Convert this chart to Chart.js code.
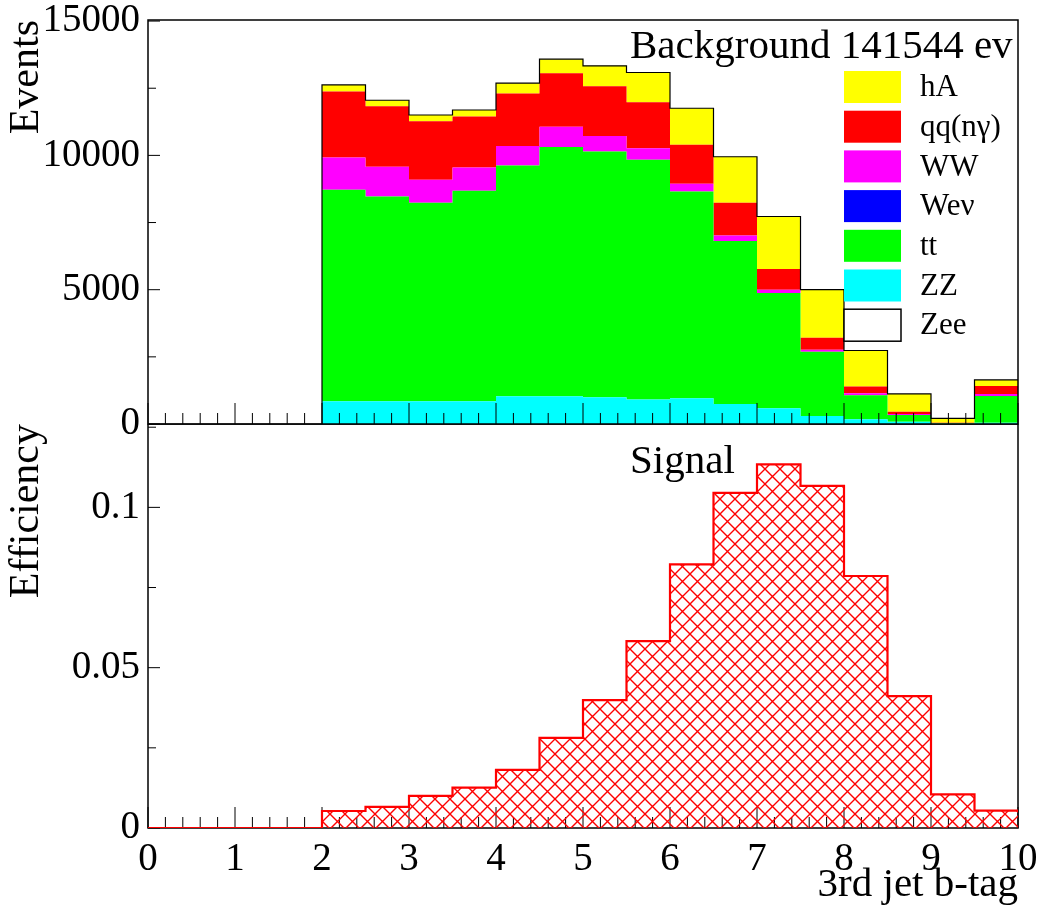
<!DOCTYPE html>
<html><head><meta charset="utf-8">
<script src="https://cdn.jsdelivr.net/npm/chart.js@4.4.0/dist/chart.umd.min.js"></script>
<style>
html,body{margin:0;padding:0;background:#fff;}
#wrap{position:relative;width:1045px;height:916px;overflow:hidden;background:#fff;}
#top{position:absolute;left:0;top:0;}
#bot{position:absolute;left:0;top:424px;}
</style></head><body>
<div id="wrap"><canvas id="top" width="1045" height="446"></canvas><canvas id="bot" width="1045" height="492"></canvas></div>
<script>
// ---------- data ----------
const binLeft = [0,0.5,1,1.5,2,2.5,3,3.5,4,4.5,5,5.5,6,6.5,7,7.5,8,8.5,9,9.5];
const xEnd = 10;
const hA  = [0,0,0,0,246,224,235,247,385,522,758,1108,1356,1716,1952,1791,1343,659,162,224];
const qq  = [0,0,0,0,2452,2250,2176,1891,1954,1990,1854,1716,1455,1219,772,448,249,87,15,299];
const WW  = [0,0,0,0,1205,1108,860,870,721,759,572,422,286,199,124,74,74,37,5,74];
const Wev = [0,0,0,0,0,0,0,0,0,0,0,0,0,0,0,0,0,0,0,0];
const tt  = [0,0,0,0,7873,7623,7386,7835,8594,9278,9154,8931,7699,6076,4291,2388,896,249,20,995];
const ZZ  = [0,0,0,0,847,847,847,847,1033,1033,995,908,958,740,585,299,174,87,10,50];
const Zee = [0,0,0,0,0,0,0,0,0,0,0,0,0,0,0,0,0,0,0,0];
const signal = [0,0,0,0,0.0053,0.0066,0.0100,0.0126,0.0181,0.0281,0.0399,0.0583,0.0822,0.1045,0.1134,0.1067,0.0786,0.0411,0.0105,0.0054];

const legendLabels = ['hA','qq(nγ)','WW','Weν','tt','ZZ','Zee'];
const legendColors = ['#ffff00','#ff0000','#ff00ff','#0000ff','#00ff00','#00ffff','#ffffff'];
const stackSeries  = [Zee, ZZ, tt, Wev, WW, qq, hA];           // bottom -> top
const stackLabels  = ['Zee','ZZ','tt','Weν','WW','qq(nγ)','hA'];
const stackColors  = ['#ffffff','#00ffff','#00ff00','#0000ff','#ff00ff','#ff0000','#ffff00'];

const topHeader = 'Background 141544 ev';
const botHeader = 'Signal';
const xTickLabels = [0,1,2,3,4,5,6,7,8,9,10];
const yTopTicks = [0,5000,10000,15000];
const yTopMinor = [2500,7500,12500];
const yBotTicks = [0,0.05,0.1];
const yBotMinor = [0.025,0.075,0.125];

// ---------- helpers ----------
const FONT = "'Liberation Serif','Times New Roman',serif";
function steps(arr){ const p = binLeft.map((x,i)=>({x:x,y:arr[i]})); p.push({x:xEnd,y:arr[arr.length-1]}); return p; }
const xMinor = []; for (let k=0;k<=50;k++){ if (k%5!==0) xMinor.push(k/5); }

function hatchPattern(){
  const c=document.createElement('canvas'); c.width=15; c.height=15;
  const g=c.getContext('2d'); g.strokeStyle='#ff0000'; g.lineWidth=1.4;
  g.beginPath();
  for (const o of [-15,0,15]){ g.moveTo(o,0); g.lineTo(o+15,15); g.moveTo(o+15,0); g.lineTo(o,15); }
  g.stroke();
  return g.createPattern(c,'repeat');
}

function drawFrame(chart, o){
  const {ctx, chartArea:a, scales:{x,y}} = chart;
  ctx.save();
  ctx.strokeStyle='#000'; ctx.lineWidth=1;
  ctx.beginPath();
  for (const v of xTickLabels){ const px=x.getPixelForValue(v); ctx.moveTo(px,a.bottom); ctx.lineTo(px,a.bottom-21); }
  for (const v of xMinor){ const px=x.getPixelForValue(v); ctx.moveTo(px,a.bottom); ctx.lineTo(px,a.bottom-11); }
  for (const v of o.yMajor){ const py=y.getPixelForValue(v); ctx.moveTo(a.left,py); ctx.lineTo(a.left+12,py); }
  for (const v of o.yMinor){ const py=y.getPixelForValue(v); ctx.moveTo(a.left,py); ctx.lineTo(a.left+8,py); }
  ctx.stroke();
  ctx.lineWidth=1.5;
  ctx.strokeRect(a.left,a.top,a.right-a.left,a.bottom-a.top);
  ctx.restore();
}
const frameTicks = {
  id:'frameTicks',
  beforeDatasetsDraw(chart, args, o){ if (o.before) drawFrame(chart,o); },
  afterDatasetsDraw(chart, args, o){ if (!o.before) drawFrame(chart,o); }
};

const textPlugin = {
  id:'textPlugin',
  afterDraw(chart, args, o){
    const ctx=chart.ctx; ctx.save();
    ctx.fillStyle='#000'; ctx.textBaseline='alphabetic'; ctx.textAlign='left';
    ctx.font='41px '+FONT;
    ctx.fillText(o.header, o.hx, o.hy);
    if (o.legend){
      ctx.font='31px '+FONT;
      legendLabels.forEach((lab,i)=>{
        const cy = 87 + i*39.7;
        ctx.fillStyle=legendColors[i];
        ctx.fillRect(844, cy-16, 57, 32);
        if (legendColors[i]==='#ffffff'){ ctx.strokeStyle='#000'; ctx.lineWidth=1.5; ctx.strokeRect(844,cy-16,57,32); }
        ctx.fillStyle='#000'; ctx.textBaseline='middle';
        ctx.fillText(lab, 920, cy+1);
      });
    }
    ctx.restore();
  }
};

function zeroPad(s){ s.paddingTop=0; s.paddingBottom=0; s.paddingLeft=0; s.paddingRight=0; }

// ---------- top chart ----------
new Chart(document.getElementById('top'), {
  type:'line',
  data:{ datasets: stackSeries.map((arr,i)=>({
    label: stackLabels[i],
    data: steps(arr),
    stepped: true,
    fill: i===0 ? 'origin' : '-1',
    backgroundColor: stackColors[i],
    borderColor: i===stackSeries.length-1 ? '#000' : 'rgba(0,0,0,0)',
    borderWidth: i===stackSeries.length-1 ? 1.2 : 1,
    pointRadius:0
  })) },
  options:{
    responsive:false, animation:false, devicePixelRatio:1,
    layout:{padding:{left:0,right:27,top:20,bottom:0}},
    plugins:{legend:{display:false}, tooltip:{enabled:false}, filler:{drawTime:'beforeDatasetsDraw'},
      frameTicks:{yMajor:yTopTicks, yMinor:yTopMinor, before:false},
      textPlugin:{header:topHeader, hx:630, hy:58, legend:true}},
    scales:{
      x:{type:'linear', min:0, max:10, grid:{display:false, drawTicks:false}, border:{display:false},
         ticks:{display:false}, afterFit(s){ s.height=22; zeroPad(s); }},
      y:{stacked:true, min:0, max:15040, grid:{display:false, drawTicks:false}, border:{display:false},
         ticks:{font:{family:FONT, size:39}, color:'#000', padding:8, callback:v=>String(v)},
         afterBuildTicks(s){ s.ticks = yTopTicks.map(v=>({value:v})); },
         afterFit(s){ s.width=148; zeroPad(s); },
         title:{display:true, text:'Events', align:'end', color:'#000', font:{family:FONT, size:42, lineHeight:1}, padding:{top:6,bottom:0}}}
    }
  },
  plugins:[frameTicks, textPlugin]
});

// ---------- bottom chart ----------
new Chart(document.getElementById('bot'), {
  type:'line',
  data:{ datasets:[{
    label:'Signal', data: steps(signal), stepped:true, fill:'origin',
    backgroundColor: hatchPattern(), borderColor:'#ff0000', borderWidth:2.2, pointRadius:0
  }]},
  options:{
    responsive:false, animation:false, devicePixelRatio:1,
    layout:{padding:{left:0,right:27,top:0,bottom:0}},
    plugins:{legend:{display:false}, tooltip:{enabled:false},
      frameTicks:{yMajor:yBotTicks, yMinor:yBotMinor, before:true},
      textPlugin:{header:botHeader, hx:630, hy:49, legend:false}},
    scales:{
      x:{type:'linear', min:0, max:10, grid:{display:false, drawTicks:false}, border:{display:false},
         ticks:{font:{family:FONT, size:39}, color:'#000', padding:8, maxRotation:0, autoSkip:false, callback:v=>String(v)},
         afterBuildTicks(s){ s.ticks = xTickLabels.map(v=>({value:v})); },
         afterFit(s){ s.height=88; zeroPad(s); },
         title:{display:true, text:'3rd jet b-tag', align:'end', color:'#000', font:{family:FONT, size:41, lineHeight:1}, padding:{top:0,bottom:10}}},
      y:{min:0, max:0.126, grid:{display:false, drawTicks:false}, border:{display:false},
         ticks:{font:{family:FONT, size:39}, color:'#000', padding:8, callback:v=>String(v)},
         afterBuildTicks(s){ s.ticks = yBotTicks.map(v=>({value:v})); },
         afterFit(s){ s.width=148; zeroPad(s); },
         title:{display:true, text:'Efficiency', align:'end', color:'#000', font:{family:FONT, size:42, lineHeight:1}, padding:{top:6,bottom:0}}}
    }
  },
  plugins:[frameTicks, textPlugin]
});
</script>
</body></html>
